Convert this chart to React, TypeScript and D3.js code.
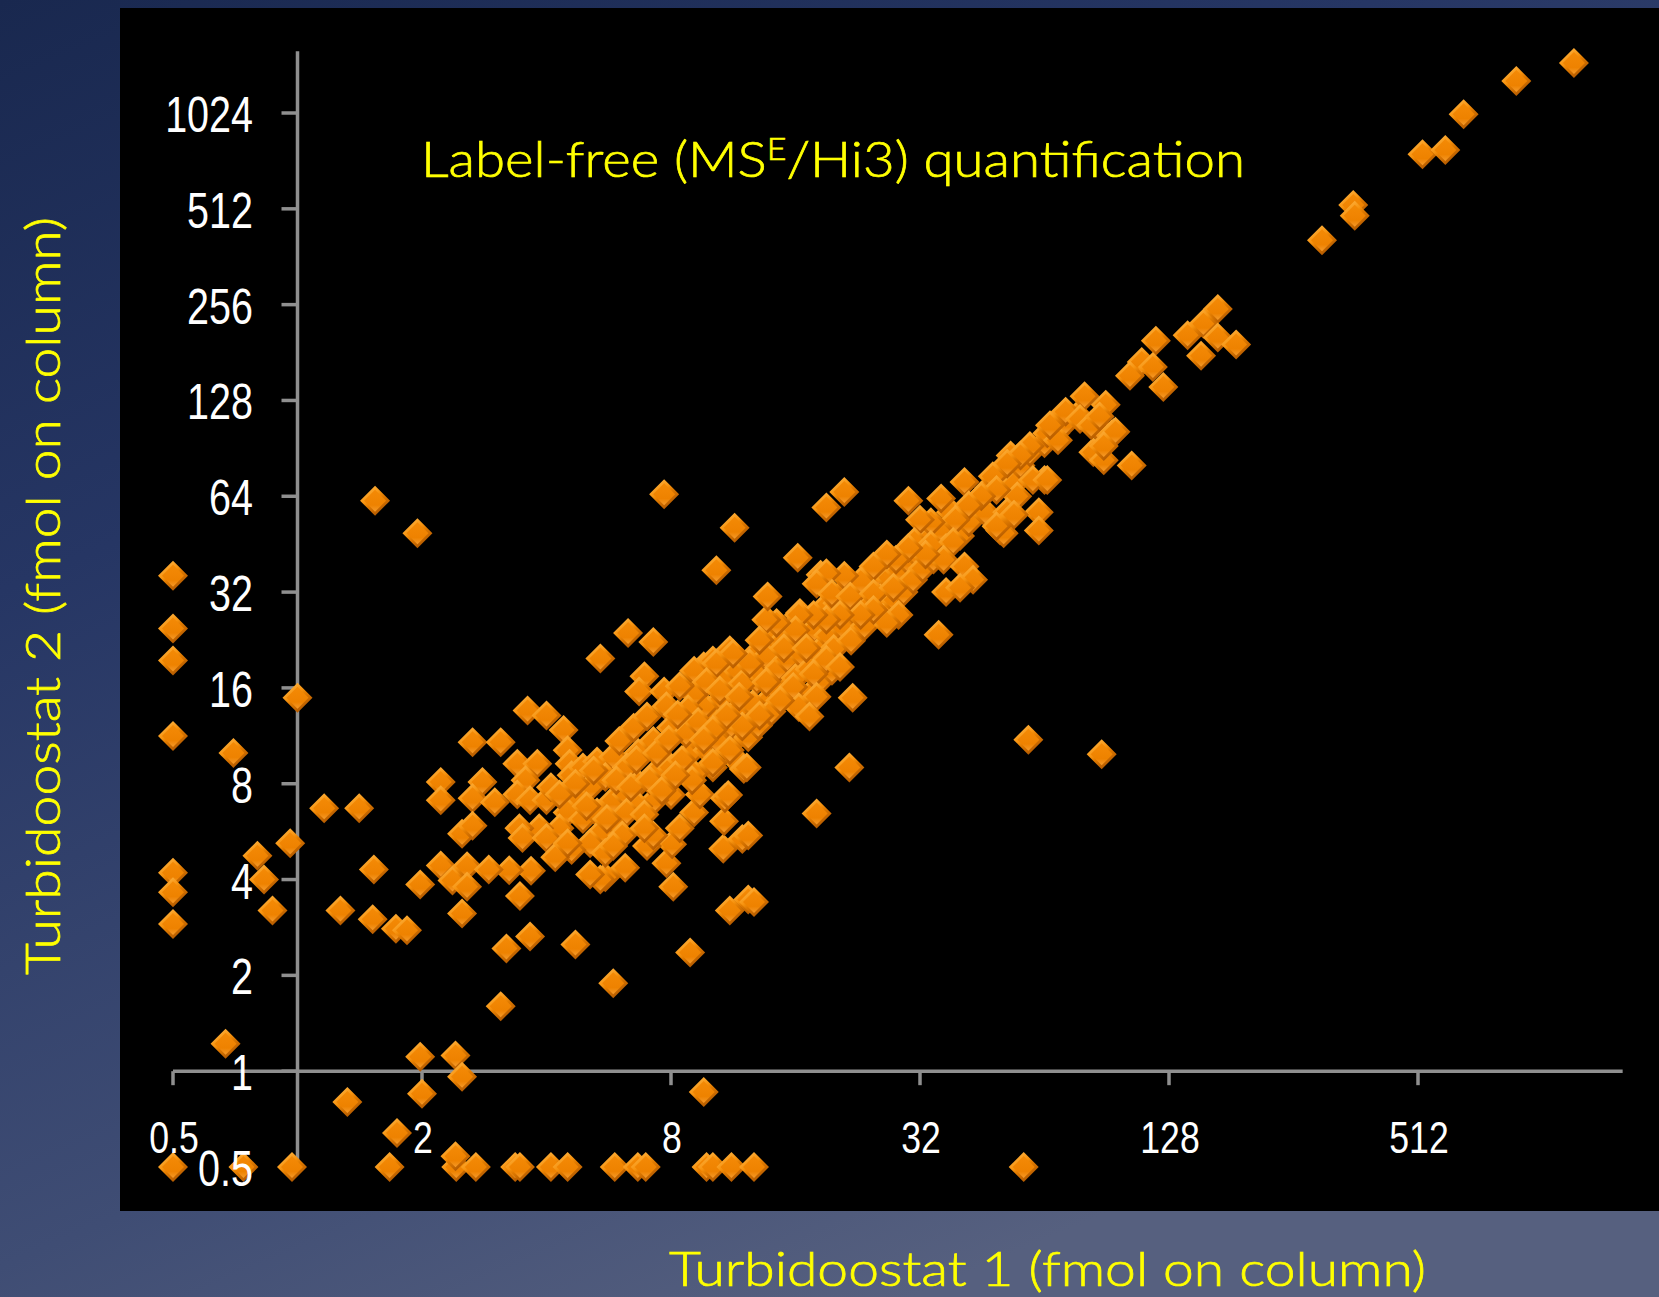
import React from "react";
import * as d3 from "d3";

const W = 1659;
const H = 1297;

// axis ticks
const xTickValues = [0.5, 2, 8, 32, 128, 512];
const yTickValues = [1, 2, 4, 8, 16, 32, 64, 128, 256, 512, 1024];
const yLabelValues = [0.5, 1, 2, 4, 8, 16, 32, 64, 128, 256, 512, 1024];

const titleMain = "Label-free (MS";
const titleSup = "E";
const titleEnd = "/Hi3) quantification";
const xTitle = "Turbidoostat 1 (fmol on column)";
const yTitle = "Turbidoostat 2 (fmol on column)";

// [Turbidostat 1, Turbidostat 2] in fmol on column
const topRight: [number, number][] = [
  [1220, 1470], [885, 1290], [660, 1015], [525, 760], [596, 783], [357, 526], [360, 487], [300, 408],
];

const upperCluster: [number, number][] = [
  [168, 248], [155, 223], [142, 205], [168, 202], [186, 192], [153, 177], [119, 197], [110, 169],
  [117, 163], [103, 153], [124, 141], [80, 132], [90, 124], [72, 118], [78, 112], [93, 100],
  [89, 83], [104, 80], [69, 96], [83, 107], [95, 102], [89, 92], [87, 114], [66, 107],
];

const bandHigh: [number, number][] = [
  [64, 72], [54, 70], [62, 57], [62, 50], [53, 57], [50, 50],
  [53, 86], [56, 80], [59, 88], [64, 94], [68, 101], [72, 109], [77, 115], [60, 72], [55, 64],
  [52, 57], [51, 49], [86, 106], [84, 88], [94, 101],
  [65, 101], [59, 92], [56, 86], [65, 72], [52, 81], [48, 74], [49, 67], [54, 56], [49, 51.5],
  [45, 64], [41, 71], [42, 60], [39, 54], [36, 63], [34, 53], [32, 54], [31, 46], [34, 45],
  [38.5, 46], [36.5, 40.4], [41, 38.5], [43, 35], [37, 32], [40, 33], [33, 42], [30, 44],
  [28, 40.4], [26.6, 42], [24.7, 38.5], [23, 34.6], [21, 36], [19, 36.7], [18, 34], [19.6, 31.6],
  [21.7, 31], [24.7, 31.6], [27.6, 33], [28.4, 27.1], [26.6, 25.6], [24.7, 28.1], [23, 27.1],
  [20.5, 27.1], [19, 26.2], [17.7, 27.1], [16.3, 27.1], [16, 24.3], [14.4, 25.6], [13.6, 26.2],
  [13.1, 22.6], [15, 21.3], [17, 21.3], [19, 19.6], [20.5, 18.6], [17.7, 17.7], [15.8, 16.1],
  [18, 15], [16.3, 13.9], [17.3, 13], [14.7, 14.6], [13.6, 16.7], [12.4, 19.1], [11.3, 20.5],
  [10.3, 19.1], [9.75, 16.7], [10.5, 15.7], [11.7, 15], [13.1, 13.1], [11.9, 12.1], [10.9, 13.1],
  [10.1, 11.8], [9.6, 11], [11.1, 10.2], [10.1, 9.3],
];

const bandCore: [number, number][] = [
  [8.5, 9.5], [8.7, 11.5], [9.0, 8.2], [9.3, 12.5], [9.8, 10.2], [10.3, 11], [10.6, 14.8],
  [11.2, 12.2], [11.5, 13.5], [11.9, 16.5], [12.3, 11.2], [12.6, 14.2], [13, 12.2], [13.3, 17.5],
  [13.6, 20], [14, 13.5], [14.2, 16], [14.6, 18.5], [14.9, 22.5], [15.3, 19.7], [15.7, 14.9],
  [16, 17.2], [16.5, 20.5], [16.9, 23], [17.3, 18.3], [17.8, 24.5], [18.2, 20.8], [18.6, 28.2],
  [19.2, 23.4], [19.8, 21.2], [20.2, 29.5], [20.8, 24.8], [21.4, 33], [21.8, 22.5], [22.3, 27.8],
  [22.9, 30.5], [23.5, 25], [24.1, 33.5], [24.6, 29.8], [25.2, 36.2], [25.9, 31], [26.4, 27],
  [27, 35.5], [27.8, 30.2], [28.5, 37.5], [29.2, 32], [30, 40], [30.8, 35], [31.5, 42], [32.5, 38],
  [33.5, 47], [34.5, 40.5], [35.5, 50], [37, 44], [38, 57], [40, 48], [42, 53], [44, 62], [46, 57],
  [47, 68],
  [4.3, 7.4], [4.7, 8.0], [5.0, 6.8], [5.2, 8.8], [5.6, 6.2], [5.9, 8.2], [6.1, 5.5], [6.4, 7.8],
  [6.6, 9.5], [6.9, 6.4], [7.1, 8.2], [7.4, 10], [7.6, 7.6], [7.9, 11], [8.2, 8.5], [8.3, 13.2],
  [4.2, 4.7], [4.5, 5.2], [5.8, 5.1], [6.9, 5.8],
];

const outliersMid: [number, number][] = [
  [21, 66], [19, 59], [30, 62], [11.4, 51], [10.3, 37.5], [16.2, 41], [13.7, 31], [35.5, 23.5],
  [58.5, 11], [22, 14.9], [21.6, 9.0], [12.2, 9.0], [88, 9.9], [7.7, 65], [18, 6.45],
];

const bandLow: [number, number][] = [
  [18.4, 36.3], [6.3, 23.8], [7.25, 22.3], [5.4, 19.8], [6.9, 17.4], [6.7, 15.6], [7.7, 15.6],
  [9.6, 18.7], [11.1, 21], [16.4, 27.5], [3.6, 13.6], [4.0, 13.1], [4.4, 11.8], [2.65, 10.8],
  [3.1, 10.8], [4.5, 10.2], [3.4, 9.25], [3.8, 9.25], [3.56, 8.2], [3.4, 7.4], [3.65, 7.1],
  [4.0, 7.1], [4.1, 7.8], [4.55, 9.25], [4.6, 8.5], [4.9, 9.0], [5.3, 9.4], [5.8, 9.7], [6.0, 10.9],
  [6.5, 12], [7.0, 13], [7.8, 14], [8.0, 12], [7.25, 10.9], [6.67, 10], [6.25, 9.0], [5.55, 8.4],
  [5.1, 7.8], [4.8, 7.1], [4.5, 6.5], [4.3, 5.8], [3.84, 5.8], [3.44, 5.8], [3.5, 5.4], [4.0, 5.4],
  [4.9, 6.2], [5.3, 6.5], [5.8, 7.1], [6.25, 7.4], [6.67, 8.0], [7.3, 8.6], [8.0, 9.0], [8.9, 10],
  [9.4, 10.9], [10.1, 12.7], [11, 14], [11.6, 15.3], [9.65, 14], [9.1, 15.3], [8.8, 13.7],
  [8.4, 16.2], [9.1, 18.1], [10.1, 19.5], [10.8, 17.4], [11.6, 18.1], [12.9, 20.6], [13.95, 22.3],
  [15.3, 23.8], [16.8, 26.2], [13.95, 18.1], [12.9, 16.9], [15.3, 16.2], [16.8, 14], [17.4, 15.3],
  [18.4, 16.9], [19.6, 18.1], [15.5, 18.6], [13.7, 14.6], [12.5, 13], [11, 10.5], [11.6, 9.4],
  [10.1, 9.0], [9.1, 8.6], [8.0, 7.37], [7.3, 7.1], [6.67, 6.8], [6.25, 6.5], [5.8, 5.9], [5.4, 5.6],
  [5.1, 5.2], [4.6, 4.95], [5.55, 4.85], [5.4, 4.0], [5.1, 4.15], [7.0, 5.1], [7.25, 5.5],
  [8.4, 5.8], [9.1, 6.5], [9.4, 7.4], [10.8, 7.2], [12.3, 5.5], [12.7, 3.4], [12, 8.9], [11, 7.37],
  [2.9, 4.3],
];

const leftScatter: [number, number][] = [
  [0.5, 36], [0.5, 24.6], [0.5, 19.5], [0.5, 11.3], [0.5, 4.2], [0.5, 3.65], [0.5, 2.9],
  [0.7, 10], [0.67, 1.22], [0.8, 4.75], [0.83, 4.0], [0.87, 3.2], [0.96, 5.2], [1.0, 14.9],
  [1.16, 6.7], [1.41, 6.7], [1.27, 3.2], [1.52, 3.0], [1.53, 4.3], [1.54, 62], [1.73, 2.8],
  [1.84, 2.77], [1.95, 49], [1.98, 3.86], [1.32, 0.8], [1.74, 0.64], [1.98, 1.11], [2.0, 0.85],
  [2.41, 1.12], [2.5, 0.96], [2.41, 0.54],
];

const lowerScatter: [number, number][] = [
  [9.6, 0.86], [8.9, 2.36], [5.8, 1.89], [4.7, 2.5], [3.65, 2.65], [3.2, 2.43], [3.1, 1.6],
  [3.45, 3.55], [3.67, 4.26], [3.25, 4.28], [8.1, 3.8], [7.8, 4.5], [10.7, 5.0], [11.9, 5.36],
  [10.75, 6.1], [11.1, 3.2], [12.3, 3.46], [5.55, 4.07], [6.2, 4.36], [8.05, 5.16], [2.22, 8.1],
  [2.22, 7.1], [2.8, 8.1], [2.65, 7.2], [2.5, 5.57], [2.65, 5.9], [3.0, 7.0], [2.22, 4.43],
  [2.37, 3.97], [2.57, 4.4], [2.57, 3.8], [2.5, 3.13],
];

const floorPoints: [number, number][] = [
  [0.5, 0.5], [0.74, 0.5], [0.97, 0.5], [1.67, 0.5], [2.42, 0.5], [2.7, 0.5], [3.36, 0.5],
  [3.45, 0.5], [4.1, 0.5], [4.5, 0.5], [5.85, 0.5], [6.65, 0.5], [6.95, 0.5], [9.75, 0.5],
  [10.1, 0.5], [11.2, 0.5], [12.7, 0.5], [57, 0.5],
];

const allPoints: [number, number][] = [
  ...floorPoints, ...leftScatter, ...lowerScatter, ...bandLow, ...bandCore, ...bandHigh,
  ...outliersMid, ...upperCluster, ...topRight,
];

const x = d3.scaleLog().base(2).domain([0.5, 512]).range([173, 1418]);
const y = d3.scaleLog().base(2).domain([0.5, 1024]).range([1167, 113]);

const fmt = (v: number) => (v < 1 ? String(v) : d3.format("d")(v));

const AXIS = "#8f8f8f";
const LABEL_FONT = "'Liberation Sans', Arial, sans-serif";
const TITLE_FONT = "Lato, 'Open Sans', sans-serif";

const diamondOuter = "M0,-15 L15,0 L0,15 L-15,0 Z";
const diamondInner = "M0,-11 L11,0 L0,11 L-11,0 Z";

export default function App() {
  return (
    <svg
      width={W}
      height={H}
      viewBox={`0 0 ${W} ${H}`}
      style={{ position: "absolute", left: 0, top: 0, display: "block" }}
    >
      <defs>
        <linearGradient id="bg" x1="0" y1="0" x2="0.55" y2="1">
          <stop offset="0" stopColor="#19284f" />
          <stop offset="0.35" stopColor="#263664" />
          <stop offset="0.75" stopColor="#3f4d74" />
          <stop offset="1" stopColor="#56607f" />
        </linearGradient>
        <linearGradient id="mk" x1="0" y1="0" x2="0.7" y2="1">
          <stop offset="0" stopColor="#ffc25a" />
          <stop offset="0.45" stopColor="#f7930f" />
          <stop offset="0.6" stopColor="#e07a00" />
          <stop offset="1" stopColor="#a85200" />
        </linearGradient>
        <linearGradient id="mkIn" x1="0" y1="0" x2="0" y2="1">
          <stop offset="0" stopColor="#f48a06" />
          <stop offset="0.7" stopColor="#ee8200" />
          <stop offset="1" stopColor="#f59a2a" />
        </linearGradient>
      </defs>

      <rect x={0} y={0} width={W} height={H} fill="url(#bg)" />
      <rect x={120} y={8} width={W - 120} height={1203} fill="#000" />

      {/* axes */}
      <g stroke={AXIS} strokeWidth={3.5} fill="none">
        <line x1={x(1)} x2={x(1)} y1={y(1600)} y2={y(0.52)} />
        <line x1={x(0.5)} x2={x(1600)} y1={y(1)} y2={y(1)} />
        {yTickValues.map((v) => (
          <line key={"yt" + v} x1={x(1) - 16} x2={x(1)} y1={y(v)} y2={y(v)} />
        ))}
        {xTickValues.map((v) => (
          <line key={"xt" + v} x1={x(v)} x2={x(v)} y1={y(1)} y2={y(1) + 14} />
        ))}
      </g>

      {/* markers */}
      <g>
        {allPoints.map(([a, b], i) => (
          <g key={i} transform={`translate(${x(a)},${y(b)})`}>
            <path d={diamondOuter} fill="url(#mk)" />
            <path d={diamondInner} fill="url(#mkIn)" />
          </g>
        ))}
      </g>

      {/* tick labels */}
      <g fill="#ffffff" fontFamily={LABEL_FONT} fontSize={50}>
        {yLabelValues.map((v) => (
          <text
            key={"yl" + v}
            transform={`translate(253,${y(v) + 19}) scale(0.79,1)`}
            textAnchor="end"
          >
            {fmt(v)}
          </text>
        ))}
      </g>
      <g fill="#ffffff" fontFamily={LABEL_FONT} fontSize={44}>
        {xTickValues.map((v) => (
          <text
            key={"xl" + v}
            transform={`translate(${x(v) + 1},1153) scale(0.81,1)`}
            textAnchor="middle"
          >
            {fmt(v)}
          </text>
        ))}
      </g>

      {/* titles */}
      <g fill="#ffff00" stroke="#ffff00" strokeWidth={0.7} fontFamily={TITLE_FONT} fontWeight={300}>
        <text x={421} y={177} fontSize={50} textLength={824} lengthAdjust="spacingAndGlyphs">
          {titleMain}
          <tspan dy={-17} fontSize={31}>
            {titleSup}
          </tspan>
          <tspan dy={17}>{titleEnd}</tspan>
        </text>
        <text x={669} y={1286} fontSize={48} textLength={757} lengthAdjust="spacingAndGlyphs">
          {xTitle}
        </text>
        <text
          transform="translate(60,975) rotate(-90)"
          fontSize={48}
          textLength={758}
          lengthAdjust="spacingAndGlyphs"
        >
          {yTitle}
        </text>
      </g>
    </svg>
  );
}
